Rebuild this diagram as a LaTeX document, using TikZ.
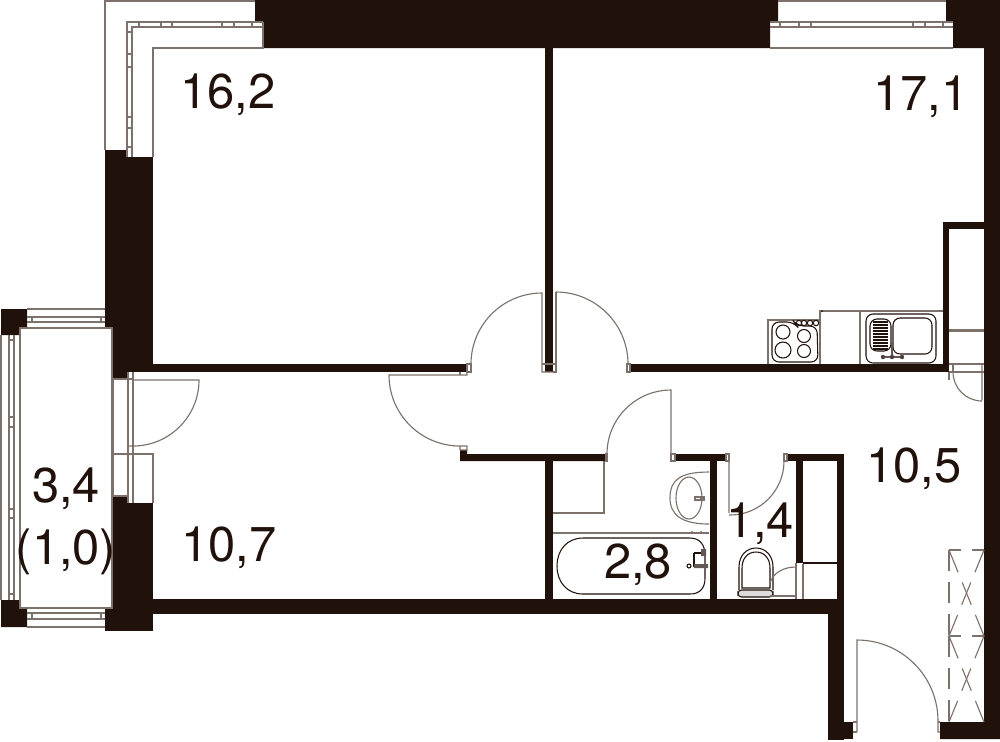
\documentclass[tikz,border=0pt]{standalone}
\usepackage{fontspec}
\setmainfont{TeX Gyre Heros}
\definecolor{wallc}{HTML}{20110A}
\definecolor{linec}{HTML}{7D726B}
\tikzset{
  wall/.style={fill=wallc,draw=none},
  thin line/.style={draw=linec,line width=0.32pt},
  fine/.style={draw=wallc,line width=0.3pt},
  roomlabel/.style={text=wallc,font=\fontsize{13.9pt}{15pt}\selectfont,inner sep=0pt,anchor=center}
}
\begin{document}
\begin{tikzpicture}[x=0.01cm,y=-0.01cm]
\useasboundingbox (0,0) rectangle (1000,741);
\fill[white] (0,0) rectangle (1000,741);
% walls
\fill[wall] (255,0)--(778,0)--(778,22)--(770,22)--(770,48)--(263,48)--(263,22)--(255,22)--cycle;
\fill[wall] (946,0)--(1000,0)--(1000,739)--(940,739)--(940,722)--(984,722)--(984,48)--(953,48)--(953,22)--(946,22)--cycle;
\fill[wall] (105,150) rectangle (113,328);
\fill[wall] (113,150) rectangle (127,379);
\fill[wall] (127,157) rectangle (153,372);
\fill[wall] (153,364) rectangle (467,372);
\fill[wall] (545,48) rectangle (553,372);
\fill[wall] (630,364) rectangle (943,372);
\fill[wall] (943,222) rectangle (949,372);
\fill[wall] (943,222) rectangle (984,229);
\fill[wall] (113,496) rectangle (127,631);
\fill[wall] (127,503) rectangle (153,631);
\fill[wall] (105,608) rectangle (113,631);
\fill[wall] (153,599) rectangle (844,614);
\fill[wall] (828,614) rectangle (844,740);
\fill[wall] (844,722) rectangle (853,739);
\fill[wall] (837,454) rectangle (844,600);
\fill[wall] (787,454) rectangle (837,461);
\fill[wall] (796,461) rectangle (803,563);
\fill[wall] (803,562) rectangle (837,564);
\fill[wall] (460,450)--(467,450)--(467,454)--(606,454)--(606,461)--(460,461)--cycle;
\fill[wall] (545,461) rectangle (553,599);
\fill[wall] (675,454) rectangle (726,461);
\fill[wall] (710,461) rectangle (717,599);
% balcony corners
\fill[wall] (1,309)--(27,309)--(27,328)--(20,328)--(20,335)--(1,335)--cycle;
\fill[wall] (1,600)--(20,600)--(20,608)--(27,608)--(27,627)--(1,627)--cycle;
% balcony lines
\draw[thin line] (20,328) rectangle (112,608);
\draw[thin line] (27,309)--(105,309) (27,317)--(105,317) (27,322)--(105,322);
\draw[thin line] (32,317)--(32,322) (101,317)--(101,322);
\draw[thin line] (27,613)--(105,613) (27,619)--(105,619) (27,627)--(105,627);
\draw[thin line] (32,613)--(32,619) (101,613)--(101,619);
\draw[thin line] (1,335)--(1,600) (9,335)--(9,600) (14,335)--(14,600);
\foreach \t in {340,417,427,509,518,594}{\draw[thin line] (9,\t)--(14,\t);}
% upper-left window
\draw[thin line] (255,1)--(105,1)--(105,150);
\draw[thin line] (263,22)--(127,22)--(127,157);
\draw[thin line] (263,27)--(132,27)--(132,157);
\draw[thin line] (263,22)--(263,48)--(153,48)--(153,157);
\foreach \t in {139,161,172,222,234,252}{\draw[thin line] (\t,22)--(\t,27);}
\foreach \t in {32,54,67,117,128,147}{\draw[thin line] (127,\t)--(132,\t);}
% upper-right window
\draw[thin line] (778,1)--(946,1);
\draw[thin line] (770,22)--(953,22) (770,27)--(953,27) (770,48)--(953,48);
\foreach \t in {780,799,811,913,925,943}{\draw[thin line] (\t,22)--(\t,27);}
% balcony door
\draw[thin line] (113,379)--(113,496) (128,372)--(128,503) (133,372)--(133,503);
\draw[thin line] (113,379)--(133,379) (113,454)--(153,454)--(153,503) (113,496)--(128,496);
\draw[thin line] (133,380)--(199,380) arc[start angle=0,end angle=90,radius=66] -- (128,446);
% room doors
\draw[thin line] (467,364) rectangle (471,372);
\draw[thin line] (471,364) arc[start angle=180,end angle=270,radius=71] -- (542,372)--(553,372);
\draw[thin line] (542,364)--(556,364) (553,372)--(556,372)--(556,292);
\draw[thin line] (556,292) arc[start angle=270,end angle=360,radius=72];
\draw[thin line] (627,364) rectangle (630,372);
\draw[thin line] (467,372)--(467,375)--(389,375) arc[start angle=180,end angle=90,radius=71] -- (460,450) (460,450)--(467,450)--(467,446)--(460,446);
\draw[thin line] (460,372)--(460,375);
\draw[thin line] (671,461)--(671,390) arc[start angle=270,end angle=180,radius=64];
\draw[thin line] (606,454) rectangle (607,461);
\draw[thin line] (671,454) rectangle (675,461);
\draw[thin line] (604,461)--(604,513)--(553,513);
% bathroom
\draw[thin line] (709,472) .. controls (680,472) and (670,480) .. (670,498) .. controls (670,515) and (682,524) .. (709,524);
\draw[thin line] (689,498) ellipse[x radius=13,y radius=21];
\draw[thin line] (695,497) rectangle (704,500);
\fill[wallc!60] (700,496) rectangle (705,501);
\draw[thin line] (553,533)--(709,533);
\draw[fine] (583,538)--(690,538) .. controls (700,538) and (705,545) .. (705,555) -- (705,578) .. controls (705,588) and (700,594) .. (690,594) -- (583,594) .. controls (567,594) and (557,582) .. (557,566) .. controls (557,550) and (567,538) .. (583,538) -- cycle;
\draw[fine] (694,553)--(703,553) (694,553)--(694,566)--(703,566);
\fill[wallc!70] (701,549) rectangle (706,556) (694,564) rectangle (708,568);
\draw[fine] (689,566) circle[radius=2];
\fill[linec] (692,532) circle[radius=1.2] (701,532) circle[radius=1.2];
% WC
\draw[thin line] (726,454) rectangle (729,461);
\draw[thin line] (784,454) rectangle (787,461);
\draw[thin line] (729,461)--(729,513) (784,461) arc[start angle=0,end angle=90,radius=54] -- (729,515);
\draw[fine] (739,590) -- (739,567) .. controls (739,555) and (747,548) .. (756,548) .. controls (765,548) and (773,555) .. (773,567) -- (773,590);
\draw[fine] (742,588) -- (742,568) .. controls (742,558) and (748,552) .. (756,552) .. controls (764,552) and (770,558) .. (770,568) -- (770,588) -- cycle;
\draw[fine,rounded corners=1pt,fill=wallc!15] (738,590) rectangle (773,597);
\draw[thin line] (770,583) .. controls (773,573) and (783,567) .. (796,567);
\draw[thin line] (770,596)--(796,596) (796,563)--(796,599) (803,564)--(803,599);
% kitchen
\draw[thin line] (768,364)--(768,320)--(820,320) (820,364)--(820,311)--(943,311);
\draw[thin line] (860,311)--(860,364);
\draw[fine,rounded corners=2pt] (772,322)--(794,322)--(797,326)--(817,326)--(818,362)--(772,362)--cycle;
\foreach \x/\y/\r in {783/332/7,804/336/6.5,783/350/8,804/351/6.5}{\draw[fine] (\x,\y) circle[radius=\r];}
\foreach \x in {799,804,810,816}{\draw[fine] (\x,323) circle[radius=2.7];}
\draw[fine,rounded corners=2pt] (866,314) rectangle (936,363);
\draw[fine,rounded corners=2pt] (870,319) rectangle (891,351);
\draw[fine,rounded corners=2pt] (893,318) rectangle (932,354);
\foreach \t in {322,325,328,331,334,337,340,343,346,349}{\draw[wallc,line width=0.5pt] (873,\t)--(888,\t);}
\draw[wallc!70,line width=0.7pt] (892,343)--(892,357);
\draw[wallc!70,line width=0.7pt] (883,357)--(902,357);
\foreach \x in {883,892,902}{\fill[wallc!80] (\x,357) circle[radius=2.2];}
\fill[wallc] (822,311) circle[radius=1];
% closet
\draw[thin line] (949,330)--(984,330) (949,331.5)--(984,331.5) (949,364)--(984,364) (949,372)--(984,372);
\draw[thin line] (949,372)--(949,380) (953,364)--(953,372);
\draw[thin line] (982,364)--(982,400) (953,372) arc[start angle=180,end angle=90,radius=29];
% entrance door
\draw[thin line] (857,732)--(857,640) arc[start angle=270,end angle=360,radius=81] -- (938,732)--(940,732);
\draw[thin line] (853,732)--(857,732) (853,722)--(857,722) (938,722)--(940,722);
% hatch
\draw[thin line,dash pattern=on 0.21cm off 0.11cm] (949,550)--(949,636);
\draw[thin line,dash pattern=on 0.21cm off 0.11cm] (949,636)--(949,722);
\draw[thin line,dash pattern=on 0.12cm off 0.11cm] (949,550)--(984,550);
\draw[thin line,dash pattern=on 0.12cm off 0.11cm] (949,636)--(984,636);
\draw[thin line,dash pattern=on 0.24cm off 0.11cm] (949,550)--(984,636);
\draw[thin line,dash pattern=on 0.24cm off 0.11cm] (984,550)--(949,636);
\draw[thin line,dash pattern=on 0.24cm off 0.11cm] (949,636)--(984,722);
\draw[thin line,dash pattern=on 0.24cm off 0.11cm] (984,636)--(949,722);
% labels
\node[roomlabel] (r1) at (228,95) {16,2};
\node[roomlabel] (r2) at (921,97) {17,1};
\node[roomlabel] (r3) at (66,489) {3,4};
\node[roomlabel] (r4) at (66,552) {(1,0)};
\node[roomlabel] (r5) at (229,548) {10,7};
\node[roomlabel] (r6) at (914,469) {10,5};
\node[roomlabel] (r7) at (638,565) {2,8};
\node[roomlabel] (r8) at (760,524) {1,4};
\end{tikzpicture}
\end{document}
